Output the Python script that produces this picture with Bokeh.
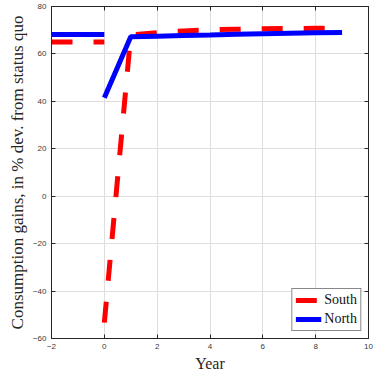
from bokeh.plotting import figure
from bokeh.models import LinearAxis, FixedTicker, Legend, LegendItem, Range1d, Grid
from bokeh.embed import file_html
from bokeh.resources import INLINE

years_pre = [-2, -1, 0]
south_pre = [65.0, 65.0, 65.0]
north_pre = [68.2, 68.2, 68.2]

years_post = [0, 1, 2, 3, 4, 5, 6, 7, 8, 9]
south_post = [-53.3, 68.0, 69.0, 69.7, 70.2, 70.4, 70.6, 70.7, 70.8, 70.9]
north_post = [41.5, 67.2, 67.5, 67.8, 68.0, 68.3, 68.5, 68.7, 68.9, 69.0]

x_ticks = [-2, 0, 2, 4, 6, 8, 10]
y_ticks = [-60, -40, -20, 0, 20, 40, 60, 80]

AX = "#262626"
TICKFONT = "Liberation Sans"
SERIF = "Liberation Serif"

p = figure(width=381, height=374, output_backend="svg", toolbar_location=None,
           x_range=Range1d(-2, 10), y_range=Range1d(-60, 80),
           min_border_left=51, min_border_right=13, min_border_top=6, min_border_bottom=34,
           x_axis_location=None, y_axis_location=None)
p.background_fill_color = "white"
p.border_fill_color = "white"
p.outline_line_color = AX
p.outline_line_width = 1

def style_axis(ax, ticks, show_labels):
    ax.ticker = FixedTicker(ticks=ticks)
    ax.major_tick_in = 4
    ax.major_tick_out = 0
    ax.minor_tick_line_color = None
    ax.axis_line_color = AX
    ax.major_tick_line_color = AX
    ax.major_label_text_font = TICKFONT
    ax.major_label_text_font_size = "8px"
    ax.major_label_text_color = "#3a3a3a"
    ax.major_label_standoff = 5
    if not show_labels:
        ax.major_label_text_font_size = "0px"
        ax.major_label_text_color = None

xb = LinearAxis(axis_label="Year")
xt = LinearAxis()
yl = LinearAxis(axis_label="Consumption gains, in % dev. from status quo")
yr = LinearAxis()
style_axis(xb, x_ticks, True)
style_axis(xt, x_ticks, False)
style_axis(yl, y_ticks, True)
style_axis(yr, y_ticks, False)
for ax, size in ((xb, "16px"), (yl, "17px")):
    ax.axis_label_text_font = SERIF
    ax.axis_label_text_font_size = size
    ax.axis_label_text_font_style = "normal"
    ax.axis_label_text_color = "#262626"
    ax.axis_label_standoff = 3
p.add_layout(xb, "below")
p.add_layout(xt, "above")
p.add_layout(yl, "left")
p.add_layout(yr, "right")

g1 = Grid(dimension=0, ticker=FixedTicker(ticks=x_ticks), grid_line_color="#dedede", grid_line_width=1)
g2 = Grid(dimension=1, ticker=FixedTicker(ticks=y_ticks), grid_line_color="#dedede", grid_line_width=1)
p.add_layout(g1)
p.add_layout(g2)

RED = "#ff0000"
BLUE = "#0000ff"
r_s_pre = p.line(years_pre, south_pre, line_color=RED, line_width=5, line_dash="21 21")
r_s_post = p.line(years_post, south_post, line_color=RED, line_width=5, line_dash="21 21")
r_n_pre = p.line(years_pre, north_pre, line_color=BLUE, line_width=5)
r_n_post = p.line(years_post, north_post, line_color=BLUE, line_width=5)

legend = Legend(items=[LegendItem(label="South", renderers=[r_s_post]),
                       LegendItem(label="North", renderers=[r_n_post])],
                location="bottom_right")
legend.label_text_font = SERIF
legend.label_text_font_size = "14px"
legend.label_text_color = "#111111"
legend.border_line_color = "#111111"
legend.border_line_width = 1
legend.background_fill_color = "white"
legend.background_fill_alpha = 1
legend.glyph_width = 26
legend.glyph_height = 14
legend.label_height = 14
legend.spacing = 3
legend.padding = 3
legend.margin = 7
legend.label_standoff = 3
p.add_layout(legend, "center")

open("out.html", "w").write(file_html(p, INLINE))
